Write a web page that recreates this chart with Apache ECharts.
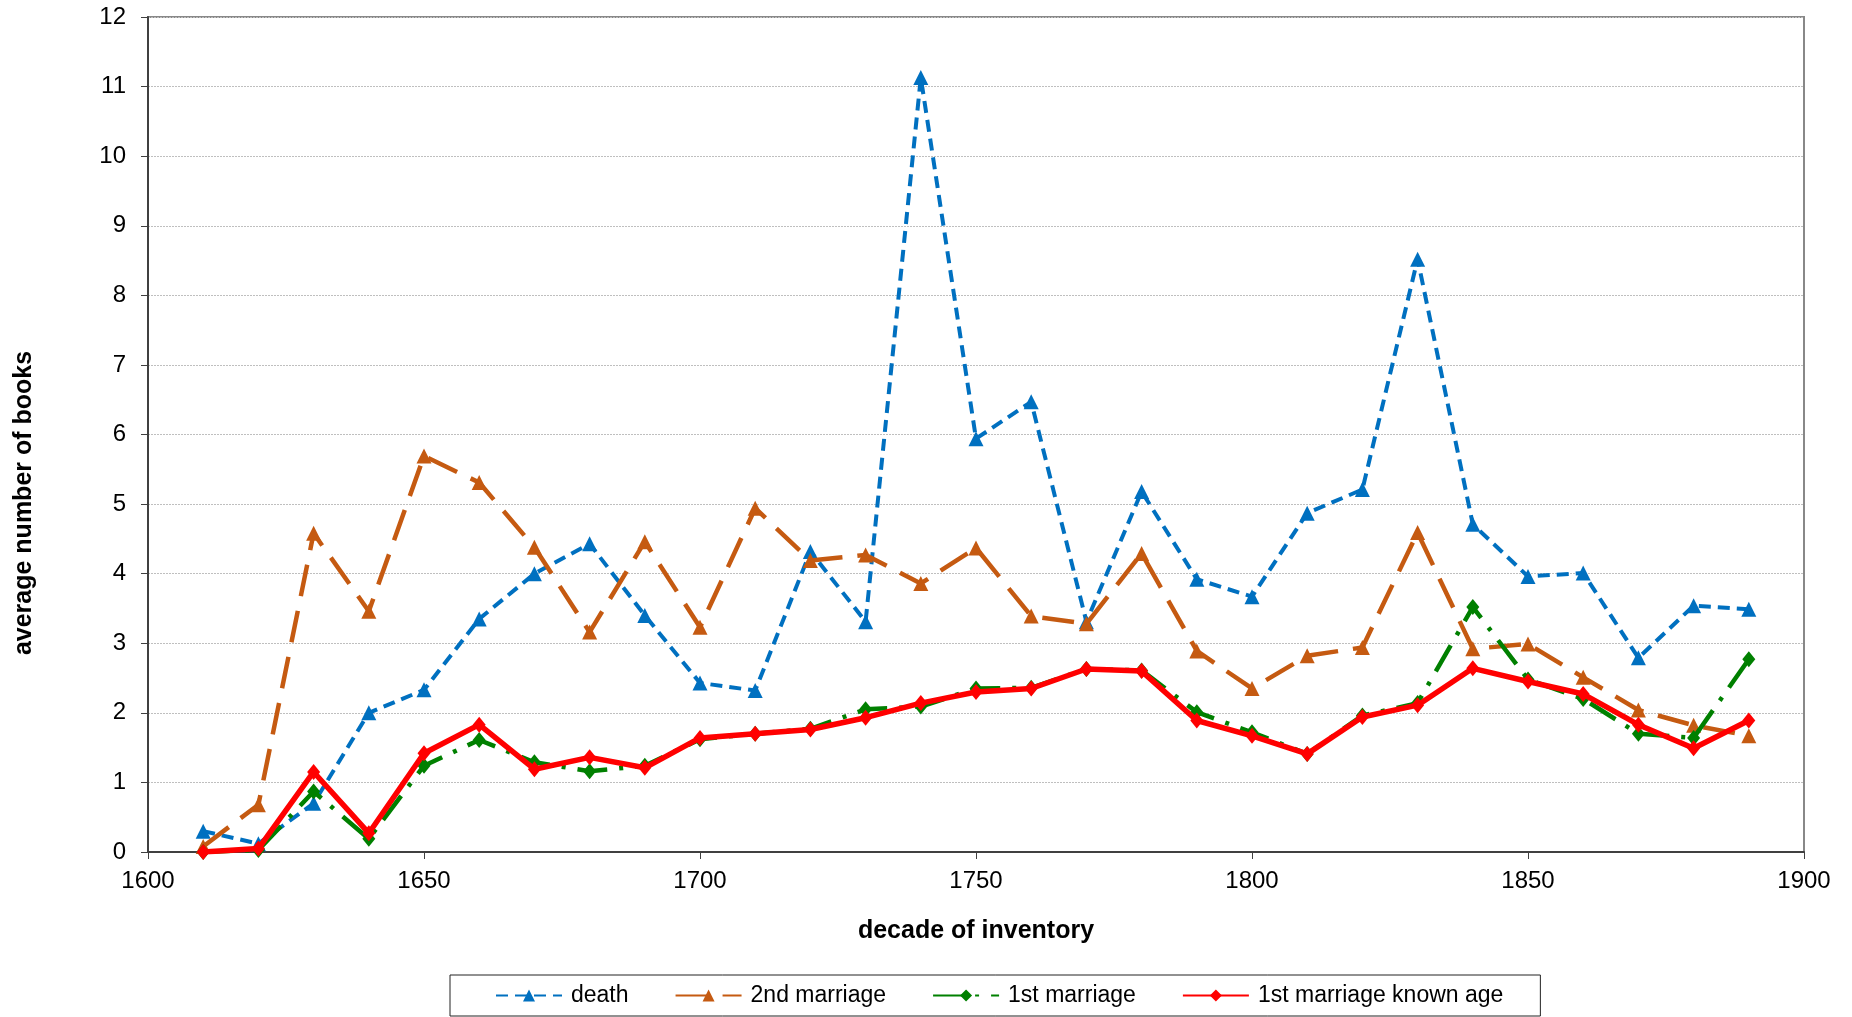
<!DOCTYPE html>
<html>
<head>
<meta charset="utf-8">
<script src="https://cdn.jsdelivr.net/npm/echarts@6/dist/echarts.min.js"></script>
<style>
  html, body { margin: 0; padding: 0; background: #fff; }
  #chart { width: 1852px; height: 1017px; }
</style>
</head>
<body>
<div id="chart"></div>
<script>
const decades = [1610, 1620, 1630, 1640, 1650, 1660, 1670, 1680, 1690, 1700,
  1710, 1720, 1730, 1740, 1750, 1760, 1770, 1780, 1790, 1800,
  1810, 1820, 1830, 1840, 1850, 1860, 1870, 1880, 1890]

const death = [0.3, 0.12, 0.7, 2.0, 2.33, 3.35, 4.0, 4.43, 3.4, 2.43,
  2.32, 4.32, 3.31, 11.13, 5.94, 6.47, 3.31, 5.18, 3.92, 3.67,
  4.87, 5.21, 8.52, 4.71, 3.96, 4.01, 2.79, 3.54, 3.49]

const secondMarriage = [0.08, 0.68, 4.58, 3.46, 5.69, 5.31, 4.38, 3.16, 4.46, 3.23,
  4.94, 4.19, 4.27, 3.86, 4.37, 3.39, 3.28, 4.29, 2.89, 2.35,
  2.82, 2.94, 4.59, 2.92, 2.99, 2.51, 2.04, 1.82, 1.67]

const firstMarriage = [0.0, 0.03, 0.87, 0.19, 1.24, 1.61, 1.29, 1.16, 1.24, 1.62,
  1.7, 1.77, 2.05, 2.09, 2.35, 2.36, 2.63, 2.61, 2.01, 1.72,
  1.41, 1.96, 2.14, 3.52, 2.48, 2.2, 1.7, 1.64, 2.77]

const firstKnownAge = [0.0, 0.05, 1.15, 0.27, 1.42, 1.83, 1.19, 1.36, 1.21, 1.64,
  1.7, 1.76, 1.93, 2.14, 2.3, 2.35, 2.63, 2.6, 1.89, 1.67,
  1.41, 1.94, 2.11, 2.64, 2.45, 2.27, 1.83, 1.49, 1.89]

const font = '"Liberation Sans", Arial, sans-serif'

function pairs(values) {
  return decades.map((d, i) => [d, values[i]])
}

function lineSeries(name, values, color, dash, width, symbol, symbolSize, z) {
  return {
    name,
    type: 'line',
    data: pairs(values),
    symbol,
    symbolSize,
    z,
    itemStyle: { color },
    lineStyle: { color, width, type: dash, cap: 'butt' },
    emphasis: { disabled: true },
  }
}

const chart = echarts.init(document.getElementById('chart'), null, { renderer: 'canvas' })

chart.setOption({
  backgroundColor: '#fff',
  animation: false,
  grid: {
    left: 148, right: 48, top: 17, bottom: 165,
    show: true, borderColor: '#888', borderWidth: 2,
  },
  legend: {
    left: 450, top: 975,
    padding: [9, 37, 9, 45],
    itemGap: 46,
    itemWidth: 66,
    itemHeight: 15,
    borderColor: '#222',
    borderWidth: 1,
    textStyle: { fontFamily: font, fontSize: 23, color: '#000', padding: [0, 0, 0, 4] },
  },
  xAxis: {
    type: 'value',
    min: 1600, max: 1900, interval: 50,
    name: 'decade of inventory',
    nameLocation: 'middle',
    nameGap: 67,
    nameTextStyle: { fontFamily: font, fontSize: 25, fontWeight: 'bold', color: '#000' },
    axisLine: { lineStyle: { color: '#404040', width: 2 } },
    axisTick: { show: true, length: 7, lineStyle: { color: '#404040' } },
    axisLabel: { fontFamily: font, fontSize: 24, color: '#000', margin: 17, formatter: (v) => String(v) },
    splitLine: { show: false },
  },
  yAxis: {
    type: 'value',
    min: 0, max: 12, interval: 1,
    name: 'average number of books',
    nameLocation: 'middle',
    nameRotate: 90,
    nameGap: 111,
    nameTextStyle: {
      fontFamily: font, fontSize: 25, fontWeight: 'bold', color: '#000',
      padding: [0, 137, 0, 0],
    },
    axisLine: { show: true, lineStyle: { color: '#404040', width: 2 } },
    axisTick: { show: true, length: 7, lineStyle: { color: '#404040' } },
    axisLabel: { fontFamily: font, fontSize: 24, color: '#000', margin: 22 },
    splitLine: { lineStyle: { color: '#bfbfbf', type: [2, 1], width: 1 } },
  },
  series: [
    lineSeries('death', death, '#0070C0', [12, 7], 4, 'triangle', 15, 2),
    lineSeries('2nd marriage', secondMarriage, '#C55A11', [32, 15], 4.5, 'triangle', 15, 3),
    lineSeries('1st marriage', firstMarriage, '#008000', [30, 12, 4, 12], 4.5, 'diamond', [13, 16], 4),
    lineSeries('1st marriage known age', firstKnownAge, '#FF0000', 'solid', 5.5, 'diamond', [13, 16], 5),
  ],
})
</script>
</body>
</html>
